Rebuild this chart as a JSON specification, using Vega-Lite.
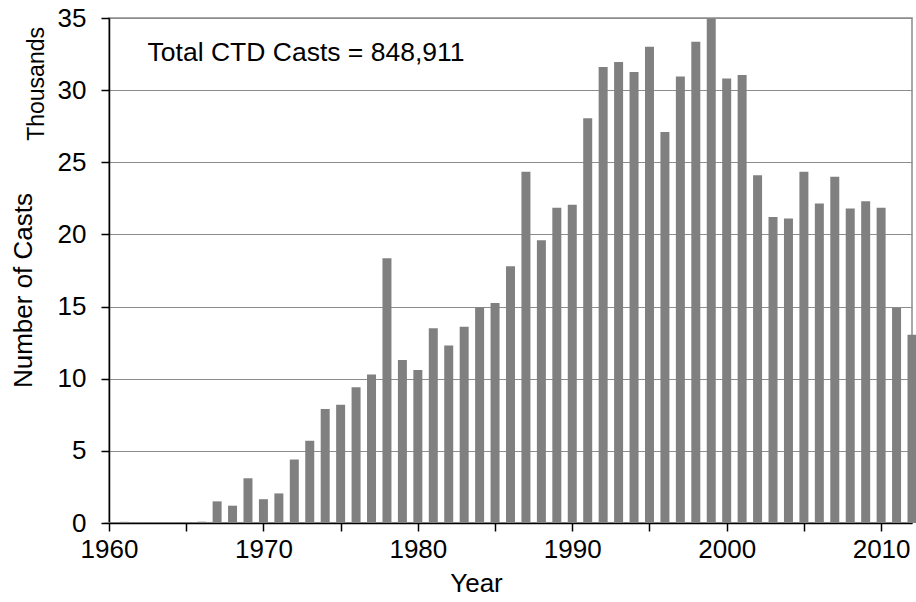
{
  "$schema": "https://vega.github.io/schema/vega-lite/v6.json",
  "width": 803,
  "height": 505,
  "autosize": {"type": "none"},
  "padding": {"left": 109, "top": 18, "right": 4, "bottom": 79},
  "background": "white",
  "config": {
    "font": "Liberation Sans",
    "view": {"stroke": "#8c8c8c", "strokeWidth": 1.5},
    "axis": {
      "labelFont": "Liberation Sans",
      "titleFont": "Liberation Sans",
      "labelColor": "black",
      "titleColor": "black",
      "labelFontSize": 26,
      "titleFontSize": 26,
      "titleFontWeight": "normal",
      "tickColor": "black",
      "tickWidth": 1.5,
      "tickSize": 8,
      "domainColor": "black",
      "domainWidth": 1.5,
      "labelFlush": false,
      "labelOverlap": false
    }
  },
  "title": {
    "text": "Thousands",
    "orient": "left",
    "anchor": "end",
    "frame": "group",
    "font": "Liberation Sans",
    "fontSize": 23,
    "fontWeight": "normal",
    "color": "black",
    "offset": 0,
    "dx": -9,
    "dy": 39
  },
  "data": {
    "values": [
      {"year": 1960, "casts": 0.05},
      {"year": 1961, "casts": 0.08},
      {"year": 1962, "casts": 0.07},
      {"year": 1963, "casts": 0.07},
      {"year": 1964, "casts": 0.07},
      {"year": 1965, "casts": 0.02},
      {"year": 1966, "casts": 0.09},
      {"year": 1967, "casts": 1.5},
      {"year": 1968, "casts": 1.2},
      {"year": 1969, "casts": 3.1},
      {"year": 1970, "casts": 1.65},
      {"year": 1971, "casts": 2.05},
      {"year": 1972, "casts": 4.4},
      {"year": 1973, "casts": 5.7},
      {"year": 1974, "casts": 7.9},
      {"year": 1975, "casts": 8.2},
      {"year": 1976, "casts": 9.4},
      {"year": 1977, "casts": 10.3},
      {"year": 1978, "casts": 18.35},
      {"year": 1979, "casts": 11.3},
      {"year": 1980, "casts": 10.6},
      {"year": 1981, "casts": 13.5},
      {"year": 1982, "casts": 12.3},
      {"year": 1983, "casts": 13.6},
      {"year": 1984, "casts": 14.95},
      {"year": 1985, "casts": 15.25},
      {"year": 1986, "casts": 17.8},
      {"year": 1987, "casts": 24.35},
      {"year": 1988, "casts": 19.6},
      {"year": 1989, "casts": 21.85},
      {"year": 1990, "casts": 22.05},
      {"year": 1991, "casts": 28.05},
      {"year": 1992, "casts": 31.6},
      {"year": 1993, "casts": 31.95},
      {"year": 1994, "casts": 31.25},
      {"year": 1995, "casts": 33.0},
      {"year": 1996, "casts": 27.1},
      {"year": 1997, "casts": 30.95},
      {"year": 1998, "casts": 33.35},
      {"year": 1999, "casts": 34.95},
      {"year": 2000, "casts": 30.8},
      {"year": 2001, "casts": 31.05},
      {"year": 2002, "casts": 24.1},
      {"year": 2003, "casts": 21.2},
      {"year": 2004, "casts": 21.1},
      {"year": 2005, "casts": 24.35},
      {"year": 2006, "casts": 22.15},
      {"year": 2007, "casts": 24.0},
      {"year": 2008, "casts": 21.8},
      {"year": 2009, "casts": 22.3},
      {"year": 2010, "casts": 21.85},
      {"year": 2011, "casts": 14.9},
      {"year": 2012, "casts": 13.05}
    ]
  },
  "layer": [
    {
      "mark": {"type": "bar", "width": 9, "color": "#808080", "clip": false},
      "encoding": {
        "x": {
          "field": "year",
          "type": "quantitative",
          "scale": {"domain": [1960, 2012], "nice": false, "zero": false, "padding": 0},
          "axis": {
            "title": "Year",
            "values": [1960, 1965, 1970, 1975, 1980, 1985, 1990, 1995, 2000, 2005, 2010],
            "format": "d",
            "labelExpr": "datum.value % 10 === 0 ? datum.label : ''",
            "grid": false,
            "labelPadding": 5,
            "titleX": 367,
            "titleY": 60,
            "titleAlign": "center",
            "titleBaseline": "middle"
          }
        },
        "y": {
          "field": "casts",
          "type": "quantitative",
          "scale": {"domain": [0, 35], "nice": false},
          "axis": {
            "title": "Number of Casts",
            "values": [0, 5, 10, 15, 20, 25, 30, 35],
            "grid": true,
            "gridColor": "#8c8c8c",
            "gridWidth": 1.2,
            "labelPadding": 15,
            "titleX": -86,
            "titleY": 272,
            "titleAlign": "center",
            "titleBaseline": "middle"
          }
        }
      }
    },
    {
      "data": {"values": [{"label": "Total CTD Casts = 848,911"}]},
      "mark": {"type": "text", "align": "left", "baseline": "middle", "font": "Liberation Sans", "fontSize": 26.5, "color": "black"},
      "encoding": {
        "x": {"datum": 1962.5, "type": "quantitative"},
        "y": {"datum": 32.6, "type": "quantitative"},
        "text": {"field": "label", "type": "nominal"}
      }
    }
  ]
}
